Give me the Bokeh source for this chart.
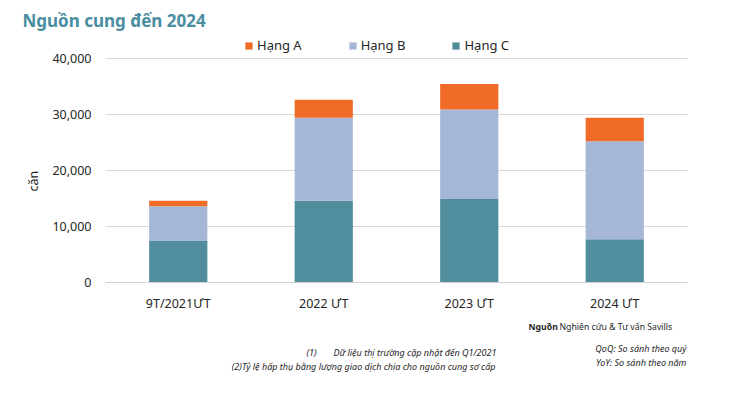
from bokeh.plotting import figure
from bokeh.layouts import column
from bokeh.models import (ColumnDataSource, FactorRange, Range1d, Legend, LegendItem,
                          Label, NumeralTickFormatter, FixedTicker, Title)
from bokeh.embed import file_html
from bokeh.resources import INLINE

categories = ["9T/2021ƯT", "2022 ƯT", "2023 ƯT", "2024 ƯT"]
hang_c = [7400, 14600, 14900, 7700]
hang_b = [6200, 14800, 15950, 17500]
hang_a = [1000, 3200, 4550, 4200]
series_names = ["Hạng C", "Hạng B", "Hạng A"]
colors = ["#508D9D", "#A6B6D6", "#EF6B27"]
y_ticks = [0, 10000, 20000, 30000, 40000]

FONT = "Noto Sans"
TXT = "#262626"
W = 732
LEFT, RIGHT = 105, 45

# ---- main chart
src = ColumnDataSource(dict(cat=categories, c=hang_c, b=hang_b, a=hang_a))
frame_h = 252
p = figure(width=W, height=314, x_range=FactorRange(*categories),
           y_range=Range1d(0, 40000 * frame_h / 226), output_backend="svg",
           toolbar_location=None, min_border_left=LEFT, min_border_right=RIGHT,
           min_border_top=32, min_border_bottom=30)
p.outline_line_color = None

p.title.text = "Nguồn cung đến 2024"
p.title.align = "left"
p.title.offset = -83
p.title.standoff = 2
p.title.text_font = FONT
p.title.text_font_size = "17px"
p.title.text_font_style = "bold"
p.title.text_color = "#4A8DA1"

rs = p.vbar_stack(["c", "b", "a"], x="cat", width=0.4, source=src,
                  color=colors, line_color=None)

p.yaxis.ticker = FixedTicker(ticks=y_ticks)
p.yaxis.formatter = NumeralTickFormatter(format="0,0")
p.yaxis.axis_line_color = None
p.yaxis.major_tick_line_color = None
p.yaxis.minor_tick_line_color = None
p.yaxis.major_tick_out = 0
p.yaxis.major_label_standoff = 14
p.yaxis.major_label_text_font = FONT
p.yaxis.major_label_text_font_size = "12.5px"
p.yaxis.major_label_text_color = TXT

# y-axis title, placed along the plotted value span
ytitle = Title(text="căn", align="left", offset=91, standoff=16,
               text_font=FONT, text_font_size="12.5px", text_font_style="normal",
               text_color=TXT)
p.add_layout(ytitle, "left")

p.xaxis.axis_line_color = "#D0D0D0"
p.xaxis.major_tick_line_color = None
p.xaxis.major_tick_out = 0
p.xaxis.major_label_standoff = 12
p.xaxis.major_label_text_font = FONT
p.xaxis.major_label_text_font_size = "12.5px"
p.xaxis.major_label_text_color = TXT

p.xgrid.grid_line_color = None
p.ygrid.grid_line_color = "#D9D9D9"
p.ygrid.grid_line_width = 1

items = [LegendItem(label=series_names[i], renderers=[rs[i]]) for i in [2, 1, 0]]
legend = Legend(items=items, orientation="horizontal", location=(139, 228),
                glyph_width=9, glyph_height=9, label_standoff=4, spacing=46,
                padding=0, margin=0, border_line_color=None,
                background_fill_alpha=0, label_text_font=FONT,
                label_text_font_size="13px", label_text_color=TXT)
p.add_layout(legend, "center")

# ---- footer (frame aligned with the chart frame; x in page pixels)
FH = 85
foot = figure(width=W, height=FH, x_range=Range1d(LEFT, W - RIGHT), y_range=Range1d(0, FH),
              output_backend="svg", toolbar_location=None, min_border_left=LEFT,
              min_border_right=RIGHT, min_border_top=0, min_border_bottom=0,
              x_axis_location=None, y_axis_location=None)
foot.grid.visible = False
foot.outline_line_color = None
foot.title.visible = False


def lab(x, y, t, align="left", style="normal", size="9px"):
    foot.add_layout(Label(x=x, y=y, text=t, text_font=FONT, text_font_size=size,
                          text_font_style=style, text_color=TXT, text_align=align,
                          text_baseline="middle"))


lab(528, 73, "Nguồn", style="bold", size="8.7px")
lab(559, 73, "Nghiên cứu & Tư vấn Savills", size="8.7px")
lab(306, 47, "(1)", style="italic")
lab(333, 47, "Dữ liệu thị trường cập nhật đến Q1/2021", style="italic")
lab(495, 33, "(2)Tỷ lệ hấp thụ bằng lượng giao dịch chia cho nguồn cung sơ cấp",
    align="right", style="italic")
lab(686, 51, "QoQ: So sánh theo quý", align="right", style="italic")
lab(686, 37, "YoY: So sánh theo năm", align="right", style="italic")

layout = column(p, foot, spacing=0)
open("out.html", "w").write(file_html(layout, INLINE))
